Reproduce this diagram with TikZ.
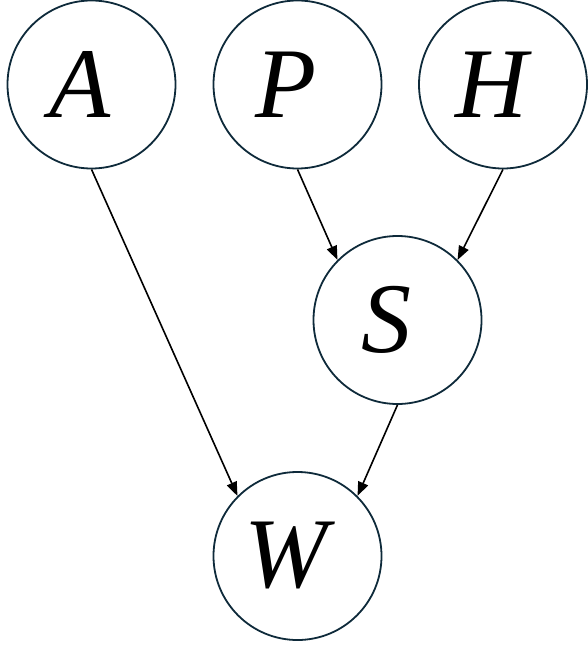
\documentclass[tikz,border=0pt]{standalone}
\usepackage{fontspec}
\setmainfont{Liberation Serif}
\usetikzlibrary{arrows.meta}
\definecolor{ring}{HTML}{0E2A3A}
\begin{document}
\begin{tikzpicture}[x=1pt,y=1pt,
  var/.style={circle,draw=ring,line width=1.8pt,minimum size=168pt,inner sep=0pt},
  lett/.style={font=\fontsize{100}{100}\selectfont\itshape,xshift=-11pt},
  edge/.style={line width=1.6pt,-{Triangle[length=14pt,width=10.5pt]}}]
\useasboundingbox (0,0) rectangle (587,-647);
\node[var,label={[lett]center:A}] (A) at (91.5,-84.5) {};
\node[var,label={[lett]center:P}] (P) at (297.5,-84.5) {};
\node[var,label={[lett]center:H}] (H) at (503,-84.5) {};
\node[var,label={[lett]center:S}] (S) at (397.5,-320) {};
\node[var,label={[lett]center:W}] (W) at (297.5,-556) {};
\draw[edge] (A.south) -- (W.north west);
\draw[edge] (P.south) -- (S.north west);
\draw[edge] (H.south) -- (S.north east);
\draw[edge] (S.south) -- (W.north east);
\end{tikzpicture}
\end{document}
